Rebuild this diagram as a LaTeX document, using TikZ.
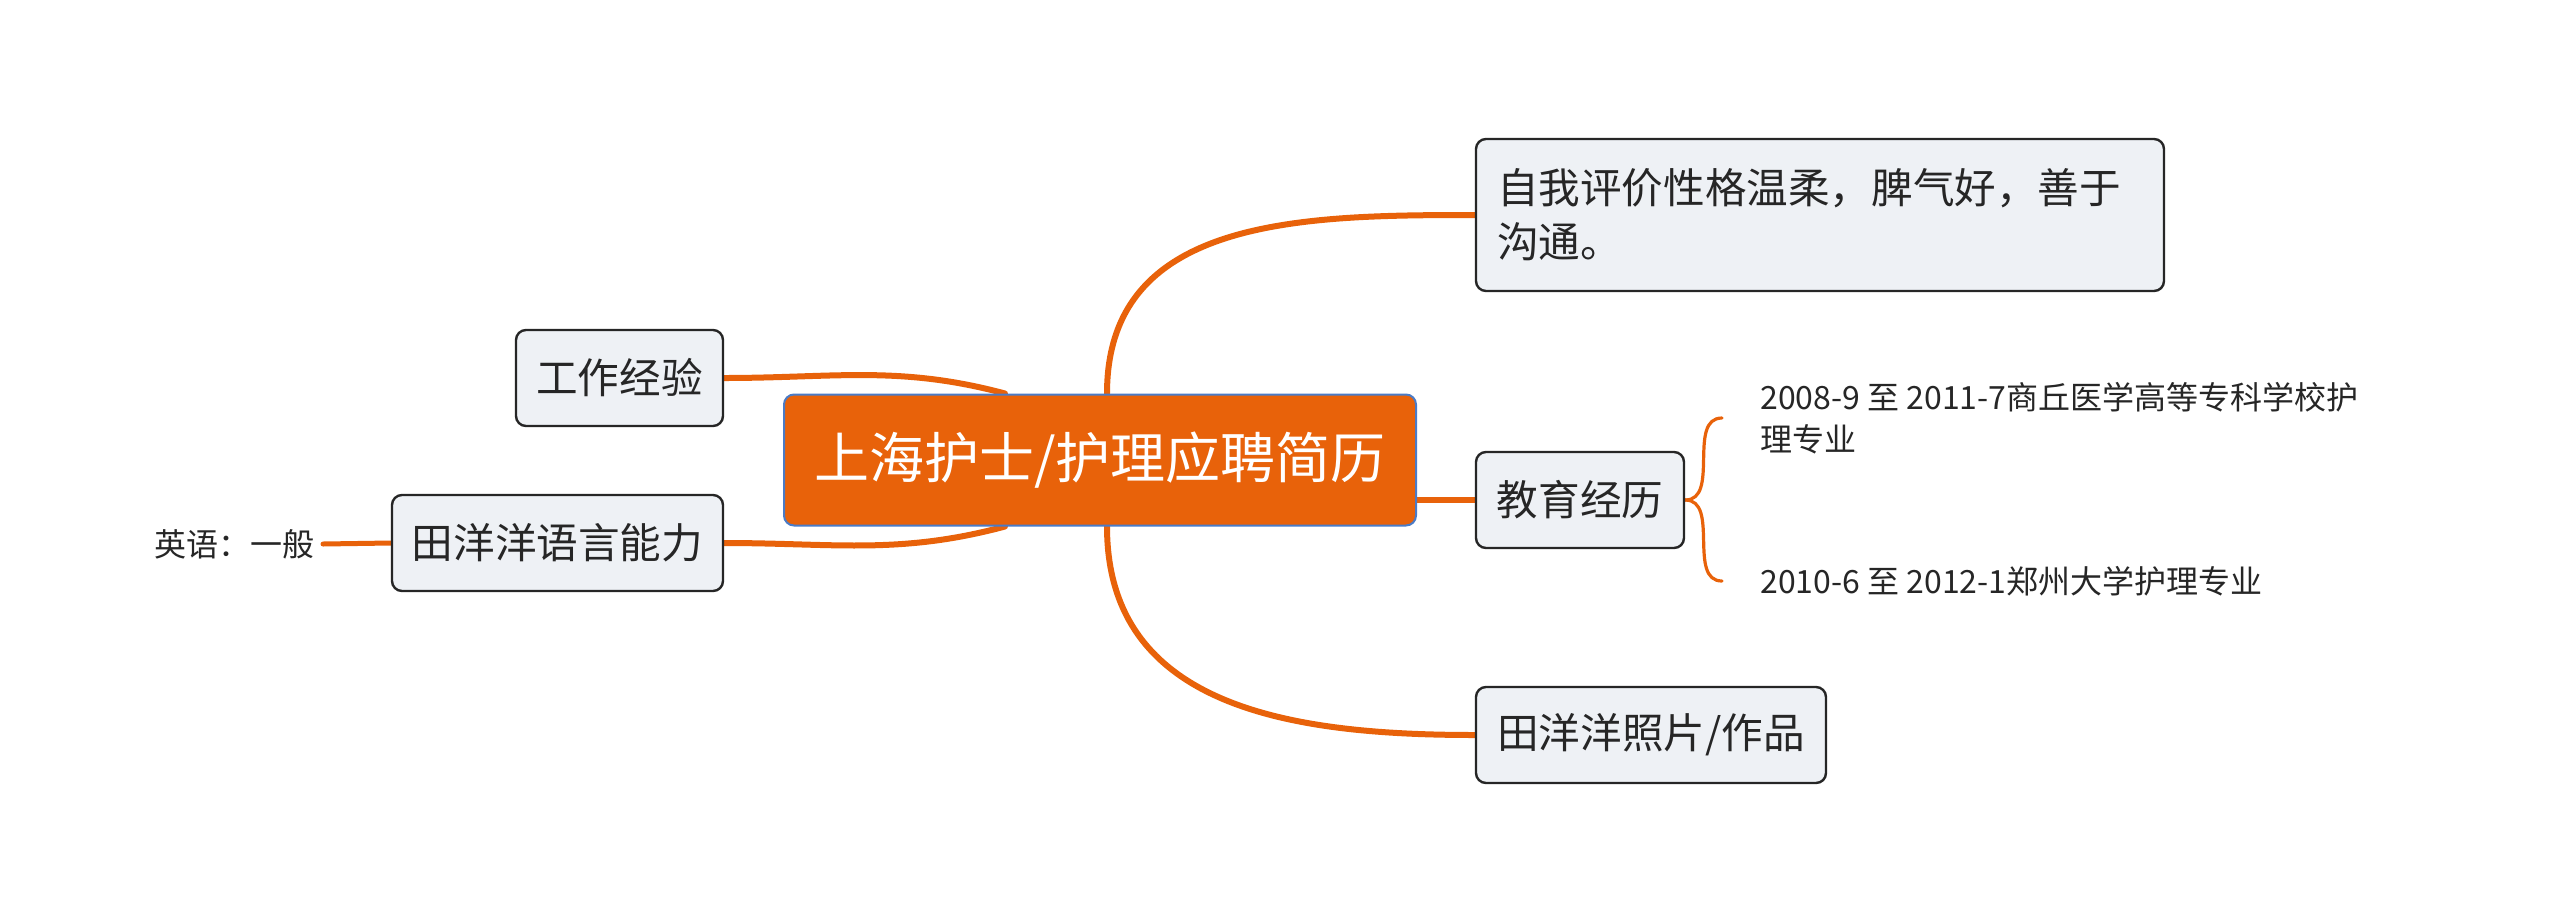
\documentclass[tikz,border=0pt]{standalone}
\usepackage{fontspec}
\setmainfont{Noto Sans CJK SC}
\usepackage{xcolor}
\usetikzlibrary{positioning,calc,backgrounds}
\definecolor{branchorange}{HTML}{E8620A}
\definecolor{rootblue}{HTML}{4A7BC6}
\definecolor{boxfill}{HTML}{EEF1F5}
\definecolor{inkgray}{HTML}{262626}

\begin{document}
\begin{tikzpicture}[
  x=0.5pt, y=0.5pt,
  root/.style={rectangle, rounded corners=5pt, draw=rootblue, line width=1pt, fill=branchorange, text=white, font=\fontsize{27.5pt}{33pt}\selectfont, minimum width=316pt, minimum height=65.5pt, inner sep=0pt},
  topic/.style={rectangle, rounded corners=5pt, draw=inkgray, line width=1.2pt, fill=boxfill, text=inkgray, font=\fontsize{20.8pt}{27pt}\selectfont, minimum height=48pt, inner sep=0pt},
  leaf/.style={text=inkgray, font=\fontsize{16pt}{21pt}\selectfont, inner sep=4pt, align=left},
  branch/.style={draw=branchorange, line width=3pt, line cap=round},
  twig/.style={draw=branchorange, line width=1.6pt, line cap=round}
]
  \useasboundingbox (0,0) rectangle (2560,-922);

  % Root and main topics
  \node[root] (cv) at (1100,-460) {上海护士/护理应聘简历};
  \node[topic, align=left, text width=323pt, inner xsep=10.5pt, minimum height=76pt] (eval) at (1820,-215) {自我评价性格温柔，脾气好，善于\\沟通。};
  \node[topic, minimum width=104pt] (edu) at (1580,-500) {教育经历};
  \node[topic, minimum width=175pt] (photo) at (1651,-735) {田洋洋照片/作品};
  \node[topic, minimum width=103.5pt] (work) at (619.5,-378) {工作经验};
  \node[topic, minimum width=165.5pt] (lang) at (557.5,-543) {田洋洋语言能力};

  % Leaves
  \node[leaf, anchor=east] (eng) at (323,-544) {英语：一般};
  \node[leaf, anchor=west] (e1) at (1752,-418) {2008-9 至 2011-7商丘医学高等专科学校护\\理专业};
  \node[leaf, anchor=west] (e2) at (1752,-581) {2010-6 至 2012-1郑州大学护理专业};

  % Branches (behind the boxes)
  \begin{scope}[on background layer]
  \path[branch]
    ([xshift=3.5pt]cv.north) edge[out=90, in=180, looseness=1.1] (eval.west)
    ([xshift=3.5pt]cv.south) edge[out=-90, in=180, looseness=1.1] (photo.west)
    (edu.west -| cv.east) edge (edu.west)
    (work.east) edge[out=0, in=165] ($(cv.north)+(-95,0)$)
    (lang.east) edge[out=0, in=-165] ($(cv.south)+(-95,0)$);
  \path[twig]
    (edu.east) edge[out=0, in=180] ($(e1.west)+(-30,0)$)
    (edu.east) edge[out=0, in=180] ($(e2.west)+(-30,0)$);
  \path[branch, line width=2.5pt]
    (lang.west) edge (eng.east);
  \end{scope}
\end{tikzpicture}
\end{document}
